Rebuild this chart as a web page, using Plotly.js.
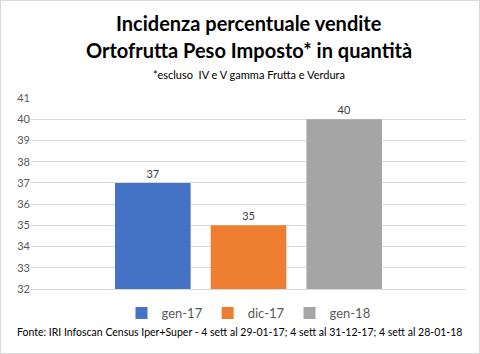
<!DOCTYPE html>
<html><head><meta charset="utf-8">
<script src="https://cdn.plot.ly/plotly-3.0.1.min.js"></script>
<style>html,body{margin:0;padding:0;background:#fff}#c{width:480px;height:354px;box-sizing:border-box;border:1px solid #d9d9d9}</style>
</head><body><div id="c"></div>
<script>
const category = [''];
const seriesNames = ['gen-17', 'dic-17', 'gen-18'];
const seriesValues = [37, 35, 40];
const seriesColors = ['#4472C4', '#ED7D31', '#A5A5A5'];
const yTicks = [32, 33, 34, 35, 36, 37, 38, 39, 40, 41];

const F = 'Lato, "Open Sans", sans-serif';
const traces = seriesNames.map((n, i) => ({
  type: 'bar', name: n, x: category, y: [seriesValues[i]],
  marker: {color: seriesColors[i]},
  text: [String(seriesValues[i])], textposition: 'outside',
  textfont: {family: F, size: 11, color: '#404040'}, cliponaxis: false,
  hoverinfo: 'none'
}));

const W = 478, H = 352, MT = 97, MB = 64;
const plotH = H - MT - MB;
function py(pix){ return (H - MB - pix) / plotH; }

const layout = {
  width: W, height: H,
  margin: {l: 30, r: 13, t: MT, b: MB},
  paper_bgcolor: '#fff', plot_bgcolor: '#fff',
  barmode: 'group', bargap: 0.34, bargroupgap: 0.21,
  showlegend: true,
  legend: {orientation: 'h', x: 0.5, xanchor: 'center', y: py(297), yanchor: 'top',
    font: {family: F, size: 13, color: '#595959'}, itemwidth: 30, traceorder: 'normal'},
  xaxis: {showticklabels: false, showgrid: false, zeroline: false, showline: true, linecolor: '#d9d9d9', fixedrange: true},
  yaxis: {range: [32, 41], tickvals: yTicks, ticktext: yTicks.map(String),
    gridcolor: '#d9d9d9', zeroline: false, showline: false,
    tickfont: {family: F, size: 11, color: '#595959'}, ticks: '', ticklen: 0},
  annotations: [
    {text: '<b>Incidenza percentuale vendite</b>', xref: 'paper', yref: 'paper', x: 0.5, y: py(22), xanchor: 'center', yanchor: 'middle', showarrow: false, font: {family: F, size: 20, color: '#000'}},
    {text: '<b>Ortofrutta Peso Imposto* in quantità</b>', xref: 'paper', yref: 'paper', x: 0.5, y: py(49), xanchor: 'center', yanchor: 'middle', showarrow: false, font: {family: F, size: 20, color: '#000'}},
    {text: '*escluso  IV e V gamma Frutta e Verdura', xref: 'paper', yref: 'paper', x: 0.5, y: py(73), xanchor: 'center', yanchor: 'middle', showarrow: false, font: {family: F, size: 11, color: '#000'}},
    {text: 'Fonte: IRI Infoscan Census Iper+Super - 4 sett al 29-01-17; 4 sett al 31-12-17; 4 sett al 28-01-18', xref: 'paper', yref: 'paper', x: 0.48, y: py(331), xanchor: 'center', yanchor: 'middle', showarrow: false, font: {family: F, size: 10.5, color: '#000'}}
  ]
};
Plotly.newPlot('c', traces, layout, {displayModeBar: false, staticPlot: true});
</script></body></html>
